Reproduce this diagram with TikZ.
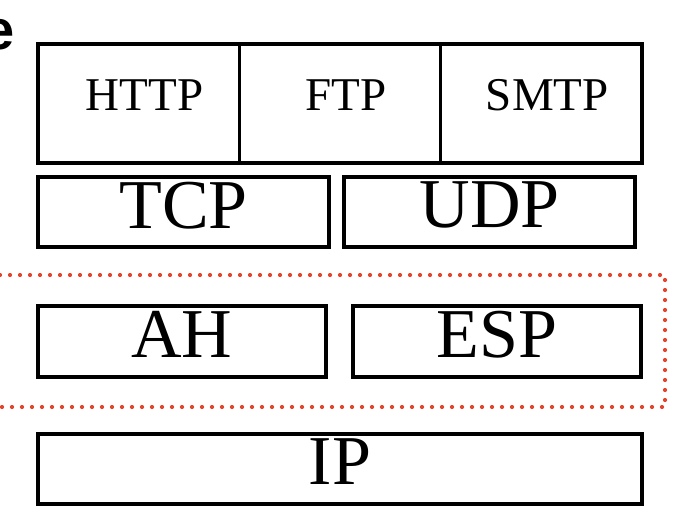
\documentclass[tikz,border=0pt]{standalone}
\usepackage{fontspec}
\setmainfont{Liberation Serif}
\newfontfamily\headfont{Liberation Sans}
\usetikzlibrary{positioning}
\definecolor{ipsecred}{HTML}{E2452C}

\tikzset{
  layerbox/.style={draw, line width=3.2pt, inner sep=0pt, outer sep=0pt, minimum height=71pt, font=\fontsize{70}{70}\selectfont, text depth=14pt},
  appbox/.style={draw, line width=3.2pt, inner sep=0pt, outer sep=0pt, minimum width=201.33pt, minimum height=119pt, font=\fontsize{47}{47}\selectfont, text depth=17pt, execute at begin node=\hspace*{12pt}},
  ipsecframe/.style={draw=ipsecred, line width=4.2pt, line cap=round, dash pattern=on 0pt off 10pt},
}

\begin{document}
\begin{tikzpicture}[x=1pt, y=-1pt]
    \clip (0,0) rectangle (682,532) ; %
    \useasboundingbox (0,0) rectangle (682,532) ; %

    \node[anchor=base east, inner sep=0pt, font=\headfont\bfseries\fontsize{56}{56}\selectfont] (head_e) at (15,50) {e} ; %

    % application layer
    \node[appbox] (http) at (138.67,103.5) {HTTP} ; %
    \node[appbox, right=0pt of http] (ftp) {FTP} ; %
    \node[appbox, right=0pt of ftp] (smtp) {SMTP} ; %

    % transport layer
    \node[layerbox, minimum width=291pt, minimum height=70pt] (tcp) at (183.5,212) {TCP} ; %
    \node[layerbox, minimum width=291pt, minimum height=70pt] (udp) at (489.5,212) {UDP} ; %

    % ipsec
    \node[layerbox, minimum width=288pt] (ah) at (182,341.5) {AH} ; %
    \node[layerbox, minimum width=288pt] (esp) at (497,341.5) {ESP} ; %
    \coordinate (ipsec_nw) at (-20,275) ; %
    \coordinate (ipsec_ne) at (665,275) ; %
    \coordinate (ipsec_se) at (665,407) ; %
    \coordinate (ipsec_sw) at (-20,407) ; %
    \draw[ipsecframe] (ipsec_nw) -- (ipsec_ne) -- (ipsec_se) -- (ipsec_sw) ; %

    % network layer
    \node[layerbox, minimum width=604pt, minimum height=70pt] (ip) at (340,469) {IP} ; %

\end{tikzpicture}
\end{document}
